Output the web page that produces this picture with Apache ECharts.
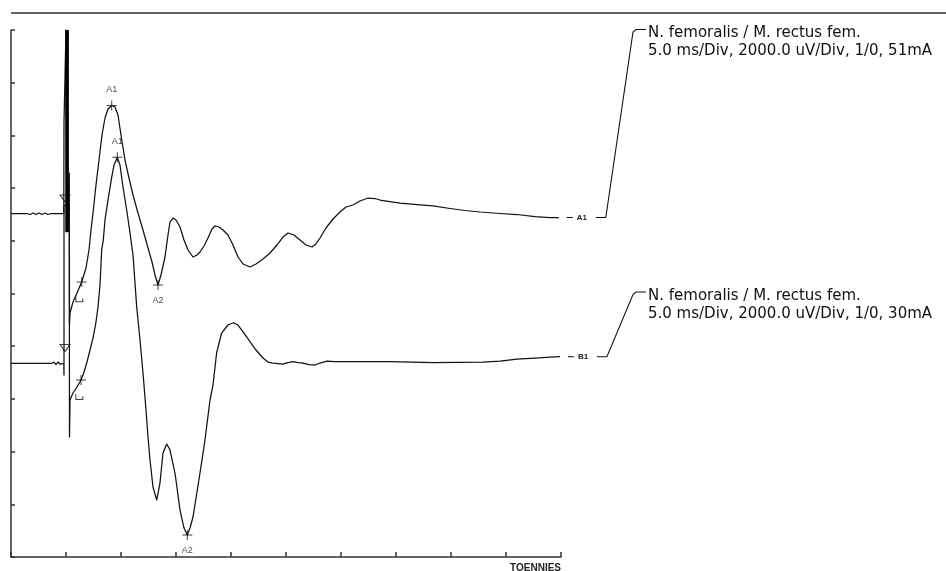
<!DOCTYPE html>
<html><head><meta charset="utf-8">
<script src="https://cdn.jsdelivr.net/npm/echarts@6/dist/echarts.min.js"></script>
<style>html,body{margin:0;padding:0;background:#fff}#c{width:946px;height:571px}</style>
</head><body><div id="c"></div>
<script>
// x: time in ms (5.0 ms/Div), y: amplitude in uV (2000 uV/Div)
const xRange = {min: 0, max: 50, interval: 5};
const yRange = {min: -10000, max: 10000, interval: 2000};
// baseline of each trace on the screen (uV)
const offsetA = 3036;
const offsetB = -2650;
// stimulus artifact (saturated), relative to trace A baseline: [ms, uV]
const stimArtifact = [[5.1,6964],[5.1,-702]];
// trace A (51mA), values relative to its baseline: [ms, uV]
const traceA = [
[0,0],[1.45,0],[1.73,-38],[2.0,19],[2.27,-38],[2.55,19],[2.82,-38],[3.09,19],[3.36,-38],[3.64,0],[4.80,0],
[4.818,3434],[5.0,6964],[5.05,-702],[5.3,1537],[5.318,-4231],[5.364,-3776],
[5.636,-3359],[6.0,-3017],[6.427,-2600],[6.818,-2068],[7.091,-1385],[7.273,-626],[7.455,19],[7.727,1082],[8.0,2030],[8.273,2979],
[8.545,3624],[8.818,3966],[9.155,4099],[9.455,4042],[9.727,3738],[10.0,2979],[10.364,2030],[10.727,1347],[11.091,702],[11.545,19],
[12.0,-626],[12.455,-1309],[12.818,-1841],[13.091,-2334],[13.364,-2713],[13.636,-2334],[14.0,-1651],[14.273,-816],[14.455,-323],
[14.727,-171],[15.0,-247],[15.364,-512],[15.727,-1006],[16.091,-1385],[16.545,-1651],[16.909,-1575],[17.182,-1461],[17.545,-1233],
[17.909,-930],[18.273,-588],[18.545,-474],[18.909,-512],[19.273,-626],[19.727,-816],[20.182,-1195],[20.636,-1651],[21.091,-1916],
[21.727,-2030],[22.273,-1916],[22.909,-1727],[23.545,-1499],[24.182,-1195],[24.727,-892],[25.182,-740],[25.727,-816],[26.273,-1006],
[26.818,-1195],[27.364,-1271],[27.727,-1157],[28.091,-930],[28.636,-550],[29.273,-209],[29.909,57],[30.455,247],[31.091,323],
[31.727,474],[32.455,588],[33.091,569],[33.545,512],[35.364,398],[37.182,323],[38.364,285],[39.909,190],[41.273,114],[42.636,57],
[44.455,0],[46.0,-38],[47.636,-114],[49.0,-152],[49.8,-152]
];
// trace B (30mA), values relative to its baseline: [ms, uV]
const traceB = [
[0,0],[3.727,0],[3.909,49],[4.091,-46],[4.273,49],[4.455,-27],[4.80,0],
[4.818,-444],[4.818,6000],[5.3,6000],[5.318,-2797],[5.364,-1393],
[5.636,-1127],[6.0,-899],[6.364,-634],[6.636,-330],[6.909,49],[7.182,505],[7.455,960],[7.727,1567],[7.909,2137],[8.091,2971],
[8.245,4300],[8.391,4679],[8.545,5438],[8.818,6197],[9.155,7070],[9.364,7525],[9.664,7818],[9.909,7525],[10.182,6691],[10.545,5742],
[10.818,4945],[11.091,4110],[11.427,2137],[11.727,884],[12.0,-368],[12.273,-1772],[12.455,-2797],[12.636,-3670],[12.909,-4694],
[13.245,-5188],[13.545,-4543],[13.818,-3404],[14.155,-3063],[14.455,-3290],[14.909,-4163],[15.364,-5567],[15.727,-6250],[16.027,-6516],
[16.273,-6250],[16.545,-5833],[17.182,-4163],[17.636,-2911],[18.091,-1393],[18.364,-824],[18.691,391],[19.145,1150],[19.727,1454],
[20.209,1541],[20.636,1454],[21.182,1150],[21.727,820],[22.273,505],[22.909,201],[23.364,49],[23.818,11],[24.727,-27],[25.182,30],
[25.636,61],[26.091,30],[26.545,11],[27.091,-46],[27.636,-65],[28.091,11],[28.727,87],[29.455,68],[30.182,61],[34.455,61],
[38.364,23],[42.909,49],[44.455,87],[46.0,163],[47.636,201],[49.0,239],[49.9,250]
];
// cursor marks: [ms, uV, name, label side]
const peaksA = [[9.155,4099,'A1','top'],[13.364,-2713,'A2','bottom']];
const peaksB = [[9.664,7818,'A1','top'],[16.027,-6516,'A2','bottom']];
const onsetA = [6.427,-2600];
const onsetB = [6.364,-634];
const bracketA = [6.209,-3256];
const bracketB = [6.209,-1279];
const stimA = [4.909,569];
const stimB = [4.909,581];
const endNames = ['A1','B1'];
const infoA = ['N. femoralis / M. rectus fem.','5.0 ms/Div, 2000.0 uV/Div, 1/0, 51mA'];
const infoB = ['N. femoralis / M. rectus fem.','5.0 ms/Div, 2000.0 uV/Div, 1/0, 30mA'];
const brand = 'TOENNIES';

// ---- layout ----
const INK = '#111', AXIS = '#333';
const GRID = {left: 11, right: 385, top: 30, bottom: 14};
const infoAnchors = [[636, 29.5], [636, 292]];
const topRuleY = 13;

const shift = (arr, off) => arr.map(p => [p[0], p[1] + off]);
const A = shift(traceA, offsetA), B = shift(traceB, offsetB);
const crossPath = 'path://M4.5,0H5.5V4.5H10V5.5H5.5V10H4.5V5.5H0V4.5H4.5Z';
const bracketPath = 'path://M0,0H1.2V5.8H8V2.5H9.2V7H0Z';
const peakData = (peaks, off) => peaks.map(p => ({value: [p[0], p[1] + off], name: p[2], label: {show: true, position: p[3]}}));

const chart = echarts.init(document.getElementById('c'));
const axisCommon = {
  type: 'value',
  axisLine: {show: true, onZero: false, lineStyle: {color: AXIS, width: 1.5}},
  axisTick: {show: true, inside: true, lineStyle: {color: AXIS, width: 1.5}},
  axisLabel: {show: false},
  splitLine: {show: false}
};
chart.setOption({
  animation: false,
  grid: GRID,
  xAxis: Object.assign({}, axisCommon, xRange, {axisTick: Object.assign({}, axisCommon.axisTick, {length: 5})}),
  yAxis: Object.assign({}, axisCommon, yRange, {axisTick: Object.assign({}, axisCommon.axisTick, {length: 4})}),
  series: [
    {type: 'line', data: A, showSymbol: false, clip: false, lineStyle: {color: INK, width: 1.25, join: 'round'}},
    {type: 'line', data: B, showSymbol: false, clip: false, lineStyle: {color: INK, width: 1.25, join: 'round'}},
    {type: 'line', data: shift(stimArtifact, offsetA), showSymbol: false, clip: false, lineStyle: {color: '#000', width: 3.6, cap: 'butt'}},
    {type: 'scatter', symbol: crossPath, symbolSize: 10, itemStyle: {color: INK},
     label: {show: false, formatter: '{b}', distance: 6, fontSize: 9, color: '#1a1a1a', fontFamily: 'Liberation Sans'},
     data: [...peakData(peaksA, offsetA), ...peakData(peaksB, offsetB),
            {value: [onsetA[0], onsetA[1] + offsetA]}, {value: [onsetB[0], onsetB[1] + offsetB]}]},
    {type: 'scatter', symbol: 'triangle', symbolRotate: 180, symbolSize: [10, 7],
     itemStyle: {color: 'rgba(0,0,0,0)', borderColor: INK, borderWidth: 1},
     data: [[stimA[0], stimA[1] + offsetA], [stimB[0], stimB[1] + offsetB]]},
    {type: 'scatter', symbol: bracketPath, symbolSize: [8, 6], itemStyle: {color: INK},
     data: [[bracketA[0], bracketA[1] + offsetA], [bracketB[0], bracketB[1] + offsetB]]}
  ]
});

// annotations tied to the trace ends
const graphics = [];
graphics.push({type: 'line', shape: {x1: GRID.left, y1: topRuleY, x2: 946, y2: topRuleY}, style: {stroke: AXIS, lineWidth: 1.5}});
[[A, infoA], [B, infoB]].forEach((pair, i) => {
  const data = pair[0];
  const end = chart.convertToPixel({gridIndex: 0}, data[data.length - 1]);
  const ex = end[0], ey = end[1];
  const anc = infoAnchors[i];
  graphics.push({type: 'line', shape: {x1: ex + 8, y1: ey, x2: ex + 14, y2: ey}, style: {stroke: INK, lineWidth: 1}});
  graphics.push({type: 'text', style: {text: endNames[i], x: ex + 18, y: ey, font: 'bold 8px "Liberation Sans"', fill: '#222', verticalAlign: 'middle', textVerticalAlign: 'middle'}});
  graphics.push({type: 'polyline', shape: {points: [[ex + 37, ey], [ex + 47, ey], [anc[0] - 3, anc[1] + 2.5], [anc[0], anc[1]], [anc[0] + 10, anc[1]]]},
                 style: {stroke: INK, lineWidth: 1.1, fill: null}});
  graphics.push({type: 'text', style: {text: pair[1].join('\n'), x: anc[0] + 12, y: anc[1] - 5, font: '15px "DejaVu Sans"', lineHeight: 18, fill: '#111', verticalAlign: 'top', textVerticalAlign: 'top'}});
});
const gridRight = 946 - GRID.right;
graphics.push({type: 'text', style: {text: brand, x: gridRight, y: 563, font: 'bold 10px "Liberation Sans"', fill: '#222', align: 'right', textAlign: 'right', verticalAlign: 'top', textVerticalAlign: 'top'}});
chart.setOption({graphic: graphics});
</script></body></html>
